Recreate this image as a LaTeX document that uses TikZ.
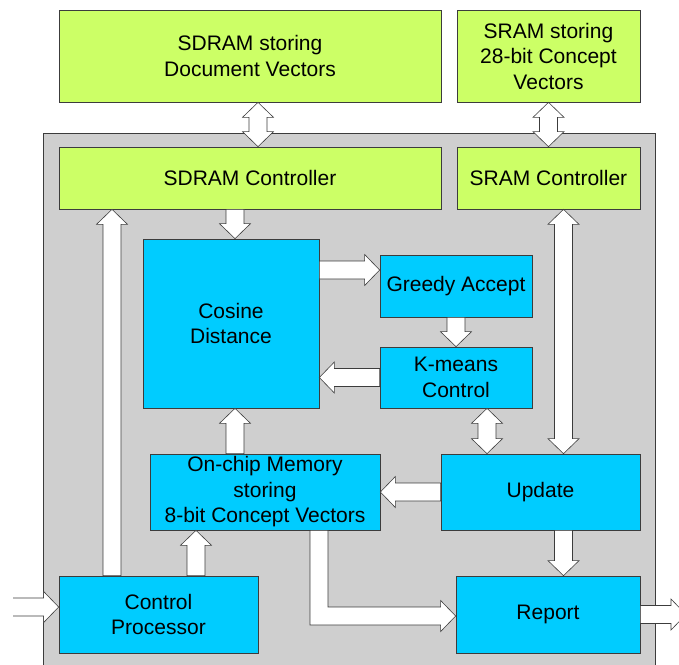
\documentclass[tikz,border=0pt]{standalone}
\usepackage{fontspec}
\setmainfont{Liberation Sans}
\usetikzlibrary{calc}

\definecolor{limebox}{HTML}{CCFF66}
\definecolor{cyanbox}{HTML}{00CCFF}
\definecolor{chipgray}{HTML}{CFCFCF}
\definecolor{edgegray}{HTML}{3C3C3C}

% block arrow dimensions
\def\shw{9pt}   % half shaft width
\def\hdw{15.5pt}  % half head width
\def\hdl{15pt}  % head length

% single block arrow from #1 with its tip at #2
\newcommand\blockarrow[2]{%
  \coordinate (ba-s) at (#1);
  \coordinate (ba-t) at (#2);
  \coordinate (ba-h) at ($(ba-t)!\hdl!(ba-s)$);
  \draw[blk] ($(ba-s)!\shw!90:(ba-t)$) -- ($(ba-h)!\shw!-90:(ba-s)$)
    -- ($(ba-h)!\hdw!-90:(ba-s)$) -- (ba-t) -- ($(ba-h)!\hdw!90:(ba-s)$)
    -- ($(ba-h)!\shw!90:(ba-s)$) -- ($(ba-s)!\shw!-90:(ba-t)$) -- cycle;}

% single block arrow whose tail end is left open
\newcommand\openblockarrow[2]{%
  \coordinate (ba-s) at (#1);
  \coordinate (ba-t) at (#2);
  \coordinate (ba-h) at ($(ba-t)!\hdl!(ba-s)$);
  \fill[white] ($(ba-s)!\shw!90:(ba-t)$) -- ($(ba-h)!\shw!-90:(ba-s)$)
    -- ($(ba-h)!\hdw!-90:(ba-s)$) -- (ba-t) -- ($(ba-h)!\hdw!90:(ba-s)$)
    -- ($(ba-h)!\shw!90:(ba-s)$) -- ($(ba-s)!\shw!-90:(ba-t)$) -- cycle;
  \draw[blk, fill=none] ($(ba-s)!\shw!90:(ba-t)$) -- ($(ba-h)!\shw!-90:(ba-s)$)
    -- ($(ba-h)!\hdw!-90:(ba-s)$) -- (ba-t) -- ($(ba-h)!\hdw!90:(ba-s)$)
    -- ($(ba-h)!\shw!90:(ba-s)$) -- ($(ba-s)!\shw!-90:(ba-t)$);}

% double block arrow between #1 and #2
\newcommand\dblblockarrow[2]{%
  \coordinate (ba-s) at (#1);
  \coordinate (ba-t) at (#2);
  \coordinate (ba-h) at ($(ba-t)!\hdl!(ba-s)$);
  \coordinate (ba-g) at ($(ba-s)!\hdl!(ba-t)$);
  \draw[blk] (ba-s) -- ($(ba-g)!\hdw!90:(ba-t)$) -- ($(ba-g)!\shw!90:(ba-t)$)
    -- ($(ba-h)!\shw!-90:(ba-s)$) -- ($(ba-h)!\hdw!-90:(ba-s)$) -- (ba-t)
    -- ($(ba-h)!\hdw!90:(ba-s)$) -- ($(ba-h)!\shw!90:(ba-s)$)
    -- ($(ba-g)!\shw!-90:(ba-t)$) -- ($(ba-g)!\hdw!-90:(ba-t)$) -- cycle;}

\tikzset{
  blk/.style={draw=edgegray, fill=white, line width=0.6pt, line join=miter},
  unit/.style={draw=edgegray, line width=0.7pt, align=center, inner sep=0pt,
    font=\fontsize{21}{25.5}\selectfont},
  memunit/.style={unit, fill=limebox},
  logicunit/.style={unit, fill=cyanbox},
}

\begin{document}
\begin{tikzpicture}[x=1pt, y=-1pt]
\path[use as bounding box] (0,0) rectangle (679,664);
\clip (0,0) rectangle (679,664);

% chip area
\draw[draw=edgegray, line width=0.6pt, fill=chipgray] (43,133) rectangle (655,690);

% off-chip memories
\node[memunit, minimum width=382pt, minimum height=92pt] (sdram) at (250,56)
  {SDRAM storing\\Document Vectors};
\node[memunit, minimum width=183pt, minimum height=92pt] (sram) at (548.5,56)
  {SRAM storing\\28-bit Concept\\Vectors};

% controllers
\node[memunit, minimum width=382pt, minimum height=62pt] (sdc) at (250,178)
  {SDRAM Controller};
\node[memunit, minimum width=183pt, minimum height=62pt] (src) at (548.5,178)
  {SRAM Controller};

% processing units
\node[logicunit, minimum width=176pt, minimum height=169pt] (cd) at (231,323.5)
  {Cosine\\Distance};
\node[logicunit, minimum width=152pt, minimum height=62pt] (ga) at (456,286)
  {Greedy Accept};
\node[logicunit, minimum width=152pt, minimum height=61pt] (km) at (456,377.5)
  {K-means\\Control};
\node[logicunit, minimum width=230pt, minimum height=76pt] (oc) at (265,492)
  {On-chip Memory\\storing\\8-bit Concept Vectors};
\node[logicunit, minimum width=199pt, minimum height=76pt] (upd) at (540.5,492)
  {Update};
\node[logicunit, minimum width=199pt, minimum height=77pt] (cp) at (158.5,614.5)
  {Control\\Processor};
\node[logicunit, minimum width=184pt, minimum height=77pt] (rep) at (548,614.5)
  {Report};

% arrow lanes
\coordinate (xsd) at (258,0);
\coordinate (xcd) at (235,0);
\coordinate (xcp) at (112,0);
\coordinate (xoc) at (196,0);
\coordinate (xkm) at (487,0);
\coordinate (xrt) at (563.5,0);
\coordinate (yga) at (0,270);
\coordinate (bend) at (319,616);
\coordinate (in) at (13,607);
\coordinate (out) at (686,614.5);

% connections
\dblblockarrow{xsd |- sdram.south}{xsd |- sdc.north}
\dblblockarrow{sram.south}{src.north}
\blockarrow{xcd |- sdc.south}{xcd |- cd.north}
\blockarrow{xcp |- cp.north}{xcp |- sdc.south}
\dblblockarrow{xrt |- src.south}{xrt |- upd.north}
\blockarrow{cd.east |- yga}{ga.west |- yga}
\blockarrow{ga.south}{km.north}
\blockarrow{km.west}{cd.east |- km.west}
\dblblockarrow{xkm |- km.south}{xkm |- upd.north}
\blockarrow{xcd |- oc.north}{xcd |- cd.south}
\blockarrow{upd.west}{oc.east}
\blockarrow{xrt |- upd.south}{xrt |- rep.north}
\blockarrow{xoc |- cp.north}{xoc |- oc.south}
\openblockarrow{in}{cp.west |- in}
\blockarrow{rep.east}{out}

% memory to report, routed below the memory block
\draw[blk] ($(oc.south -| bend)+(-9,0)$) -- ($(bend)+(-9,9)$)
  -- ($(rep.west |- bend)+(-15,9)$) -- ++(0,6.5) -- (rep.west |- bend)
  -- ($(rep.west |- bend)+(-15,-15.5)$) -- ++(0,6.5) -- ($(bend)+(9,-9)$)
  -- ($(oc.south -| bend)+(9,0)$) -- cycle;
\end{tikzpicture}
\end{document}
